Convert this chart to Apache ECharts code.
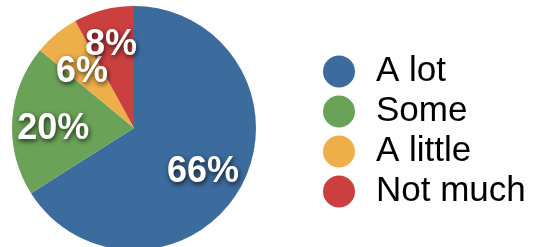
<!DOCTYPE html>
<html>
<head>
<meta charset="utf-8">
<script src="https://cdn.jsdelivr.net/npm/echarts@6/dist/echarts.min.js"></script>
<style>
  html, body { margin: 0; padding: 0; background: #fff; }
  #chart { width: 538px; height: 247px; }
</style>
</head>
<body>
<div id="chart"></div>
<script>
  // data
  var categories = ['A lot', 'Some', 'A little', 'Not much'];
  var shares = [66, 20, 6, 8];
  var colors = ['#3c6b9d', '#6aa257', '#eeae4a', '#cb403f'];

  var pieData = categories.map(function (name, i) {
    return { name: name, value: shares[i], itemStyle: { color: colors[i] } };
  });

  var chart = echarts.init(document.getElementById('chart'));
  chart.setOption({
    animation: false,
    color: colors,
    legend: {
      orient: 'vertical',
      left: 318,
      top: 49,
      icon: 'circle',
      itemWidth: 32,
      itemHeight: 32,
      itemGap: 5,
      data: categories,
      textStyle: {
        fontFamily: 'Liberation Sans, Arial, sans-serif',
        fontSize: 35,
        lineHeight: 32,
        color: '#000',
        padding: [0, 0, 0, 16]
      }
    },
    series: [
      {
        // the coloured slices
        type: 'pie',
        center: [134, 128],
        radius: 122,
        startAngle: 90,
        clockwise: true,
        silent: true,
        label: { show: false },
        labelLine: { show: false },
        data: pieData
      },
      {
        // transparent ring only used to place the % labels further out
        type: 'pie',
        center: [134, 128],
        radius: [32, 122],
        startAngle: 90,
        clockwise: true,
        silent: true,
        avoidLabelOverlap: false,
        legendHoverLink: false,
        itemStyle: { color: 'rgba(0,0,0,0)' },
        labelLine: { show: false },
        labelLayout: { hideOverlap: false },
        label: {
          show: true,
          position: 'inside',
          formatter: '{c}%',
          offset: [-1, 6],
          fontFamily: 'Liberation Sans, Arial, sans-serif',
          fontWeight: 'bold',
          fontSize: 36,
          color: '#fff',
          textShadowColor: 'rgba(0,0,0,0.75)',
          textShadowBlur: 5,
          textShadowOffsetX: 1,
          textShadowOffsetY: 2
        },
        data: categories.map(function (name, i) {
          var d = { name: 'lbl' + i, value: shares[i] };
          if (i === 3) d.label = { offset: [-3, -5] };
          return d;
        })
      }
    ]
  });
</script>
</body>
</html>
